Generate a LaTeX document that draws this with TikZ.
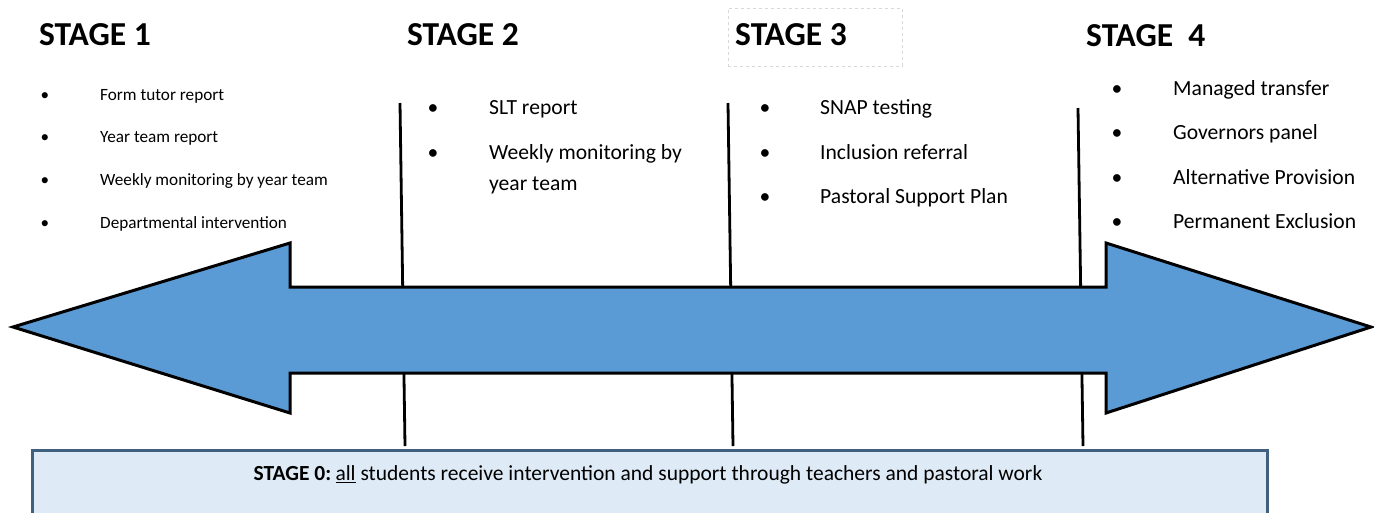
\documentclass[tikz,border=0pt]{standalone}
\usepackage{fontspec}
\setmainfont{Carlito}
\definecolor{arrowblue}{HTML}{5B9BD5}
\definecolor{boxfill}{HTML}{DEEAF6}
\definecolor{boxedge}{HTML}{41607F}
\definecolor{dashgray}{HTML}{D8D8D8}
\tikzset{
  heading/.style={anchor=west, inner sep=0pt, font=\bfseries\fontsize{33.5}{36}\selectfont},
  smallitem/.style={anchor=mid west, inner sep=0pt, font=\fontsize{17.2}{20}\selectfont},
  bigitem/.style={anchor=mid west, inner sep=0pt, font=\fontsize{21.6}{24}\selectfont},
  smallbullet/.style={anchor=mid, inner sep=0pt, font=\fontsize{17.2}{20}\selectfont},
  bigbullet/.style={anchor=mid, inner sep=0pt, font=\fontsize{21.6}{24}\selectfont},
  divider/.style={draw=black, line width=2.8pt},
  bigarrow/.style={draw=black, line width=3pt, fill=arrowblue, line join=miter},
}
\begin{document}
\begin{tikzpicture}[x=1pt,y=-1pt]
\useasboundingbox (0,0) rectangle (1374,512);

% dividers (behind the arrow)
\coordinate (d1t) at (400,103); \coordinate (d1b) at (405,446);
\coordinate (d2t) at (728,103); \coordinate (d2b) at (733,446);
\coordinate (d3t) at (1078,108); \coordinate (d3b) at (1083,446);
\draw[divider] (d1t) -- (d1b);
\draw[divider] (d2t) -- (d2b);
\draw[divider] (d3t) -- (d3b);

% double arrow
\draw[bigarrow] (13,327) -- (290,243) -- (290,287) -- (1106,287) -- (1106,243)
  -- (1371,327) -- (1106,413) -- (1106,373) -- (290,373) -- (290,413) -- cycle;

% stage 0 box
\node[draw=boxedge, line width=2.5pt, fill=boxfill, minimum width=1235pt, minimum height=90pt,
      anchor=north west, inner sep=0pt] (box0) at (31,449) {};
\node[anchor=mid, inner sep=0pt, font=\fontsize{21.5}{24}\selectfont] (s0) at (648,478)
  {\textbf{STAGE 0:}\hspace{0.2em}\underline{all} students receive intervention and support through teachers and pastoral work};

% headings
\node[heading] (h1) at (39,35) {STAGE 1};
\node[heading] (h2) at (407,35) {STAGE 2};
\node[draw=dashgray, dashed, line width=0.8pt, minimum width=174pt, minimum height=58pt,
      anchor=north west, inner sep=0pt] (h3box) at (728,8) {};
\node[heading] (h3) at (735,35) {STAGE 3};
\node[heading] (h4) at (1086,36) {STAGE\ \ 4};

% stage 1 items
\node[smallbullet] (b11) at (45,98) {•};
\node[smallitem] (t11) at (100,98) {Form tutor report};
\node[smallbullet] (b12) at (45,140) {•};
\node[smallitem] (t12) at (100,140) {Year team report};
\node[smallbullet] (b13) at (45,183) {•};
\node[smallitem] (t13) at (100,183) {Weekly monitoring by year team};
\node[smallbullet] (b14) at (45,226) {•};
\node[smallitem] (t14) at (100,226) {Departmental intervention};

% stage 2 items
\node[bigbullet] (b21) at (433,112) {•};
\node[bigitem] (t21) at (489,112) {SLT report};
\node[bigbullet] (b22) at (433,157) {•};
\node[bigitem] (t22) at (489,157) {Weekly monitoring by};
\node[bigitem] (t22b) at (489,188) {year team};

% stage 3 items
\node[bigbullet] (b31) at (765,112) {•};
\node[bigitem] (t31) at (820,112) {SNAP testing};
\node[bigbullet] (b32) at (765,157) {•};
\node[bigitem] (t32) at (820,157) {Inclusion referral};
\node[bigbullet] (b33) at (765,201) {•};
\node[bigitem] (t33) at (820,201) {Pastoral Support Plan};

% stage 4 items
\node[bigbullet] (b41) at (1117,93) {•};
\node[bigitem] (t41) at (1173,93) {Managed transfer};
\node[bigbullet] (b42) at (1117,137) {•};
\node[bigitem] (t42) at (1173,137) {Governors panel};
\node[bigbullet] (b43) at (1117,182) {•};
\node[bigitem] (t43) at (1173,182) {Alternative Provision};
\node[bigbullet] (b44) at (1117,226) {•};
\node[bigitem] (t44) at (1173,226) {Permanent Exclusion};
\end{tikzpicture}
\end{document}
